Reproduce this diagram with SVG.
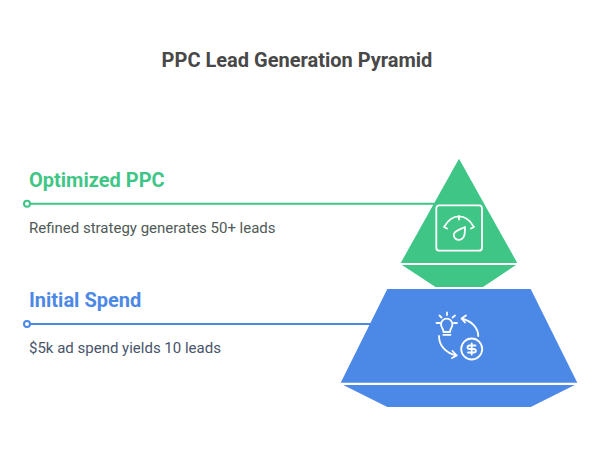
<svg xmlns="http://www.w3.org/2000/svg" width="603" height="456" viewBox="0 0 603 456">
<style>
text{font-family:Roboto,"Liberation Sans",sans-serif}
.title{font-size:20px;font-weight:700;fill:#484848}
.head{font-size:20px;font-weight:700}
.desc{font-size:15px}
.ico{fill:none;stroke:#fff;stroke-width:1.8;stroke-linecap:round;stroke-linejoin:round}
.con{fill:none;stroke-width:2}
.dot{fill:#fff;stroke-width:2}
</style>
<rect width="603" height="456" fill="#fff"/>
<text class="title" x="297" y="67" text-anchor="middle">PPC Lead Generation Pyramid</text>
<g id="connectors">
<path class="con" stroke="#3fc686" d="M30 203.700H434"/>
<circle class="dot" stroke="#3fc686" cx="27" cy="203.700" r="3"/>
<path class="con" stroke="#4c88e6" d="M30 324H371"/>
<circle class="dot" stroke="#4c88e6" cx="27" cy="324" r="3"/>
</g>
<g id="node-optimized">
<path fill="#3fc686" d="M459 158.700L517.300 263H400.700Z"/>
<path fill="#3fc686" d="M402 265H516L483 287H435.500Z"/>
<rect class="ico" x="436.300" y="205.300" width="45.700" height="45.400" rx="3"/>
<path class="ico" d="M444 227L447 228.500M444.500 226.500C452 213 466 213 473.500 226.500M474 227L471 228.500M459 216V219.500"/>
<path class="ico" d="M465 227C465 233 465 239 459.500 239.800C455 240.300 452.500 236 454.300 233C456 230.300 461 229 465 227Z"/>
<text class="head" fill="#3fc686" x="29" y="187">Optimized PPC</text>
<text class="desc" fill="#4f5a57" x="29" y="233">Refined strategy generates 50+ leads</text>
</g>
<g id="node-initial">
<path fill="#4c88e6" d="M387.300 289H530.700L577.300 382.700H340.700Z"/>
<path fill="#4c88e6" d="M343.300 385H574.700L530.700 407H387.300Z"/>
<path class="ico" d="M443.500 332C443.500 328.500 441 328 441 324.300A5.700 5.700 0 0 1 452.400 324.300C452.400 328 450 328.500 450 332ZM443.300 334.800H450.500M436.500 323H439.500M454 323H457M439.500 315.500L441.500 317.500M447 312.500V315M455 315.500L452.500 317.500"/>
<path class="ico" d="M478.300 336C478 328 472 321 461.500 318.500M466 315.500L461.500 318.500L465 322.500"/>
<path class="ico" d="M439 336C439 345 445 353 456.700 355.500M452.500 351L456.700 355.500L452 358"/>
<circle class="ico" cx="471.700" cy="349" r="10.500"/>
<path class="ico" d="M475.500 345.500H469.800C466.800 345.500 466.800 349 469.800 349H473.600C476.600 349 476.600 352.500 473.600 352.500H468M471.700 343.500V354.500"/>
<text class="head" fill="#4c88e6" x="29" y="307">Initial Spend</text>
<text class="desc" fill="#48546a" x="29" y="353">$5k ad spend yields 10 leads</text>
</g>
</svg>
